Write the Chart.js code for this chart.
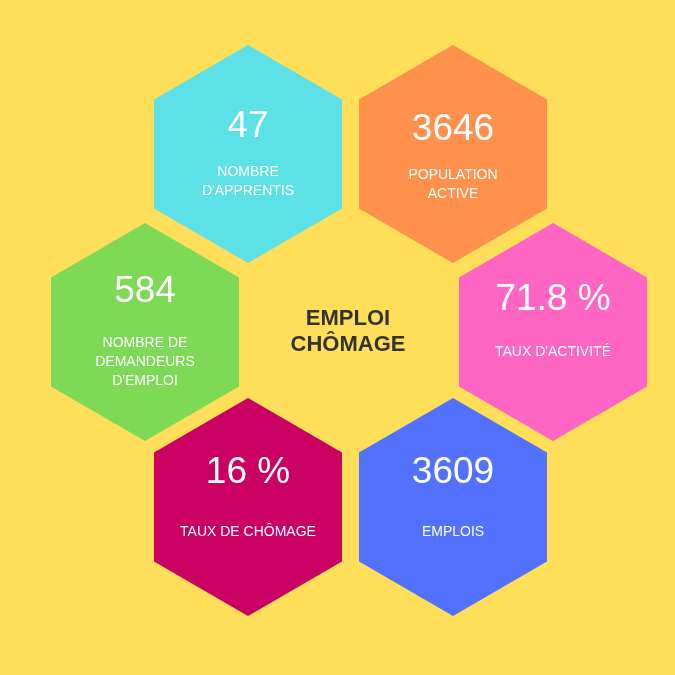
<!DOCTYPE html>
<html>
<head>
<meta charset="utf-8">
<script src="https://cdn.jsdelivr.net/npm/chart.js@4/dist/chart.umd.min.js"></script>
<style>
  html, body { margin: 0; padding: 0; background: #FFDE59; }
  #wrap { width: 675px; height: 675px; }
</style>
</head>
<body>
<div id="wrap"><canvas id="hexChart" width="675" height="675"></canvas></div>
<script>
// values shown in each hexagon
const values = ['47', '3646', '584', '71.8 %', '16 %', '3609'];
const labels = [
  ['NOMBRE', "D'APPRENTIS"],
  ['POPULATION', 'ACTIVE'],
  ['NOMBRE DE', 'DEMANDEURS', "D'EMPLOI"],
  ["TAUX D'ACTIVITÉ"],
  ['TAUX DE CHÔMAGE'],
  ['EMPLOIS']
];
const colors = ['#5CE1E6', '#FF914D', '#7ED957', '#FF66C4', '#CB0063', '#5271FF'];
const title = ['EMPLOI', 'CHÔMAGE'];

// hexagon centres (layout) and text offsets
const centerX = [248, 453, 145, 553, 248, 453];
const centerY = [154, 154, 332, 332, 507, 507];
const numberDy = [-27, -24, -40, -32, -34, -34];
const labelDy = [18, 21, 11, 20, 25, 25];

function hexCanvas(color) {
  const w = 188, h = 218;
  const c = document.createElement('canvas');
  c.width = w; c.height = h;
  const ctx = c.getContext('2d');
  ctx.fillStyle = color;
  ctx.beginPath();
  ctx.moveTo(w / 2, 0);
  ctx.lineTo(w, h / 4);
  ctx.lineTo(w, h * 3 / 4);
  ctx.lineTo(w / 2, h);
  ctx.lineTo(0, h * 3 / 4);
  ctx.lineTo(0, h / 4);
  ctx.closePath();
  ctx.fill();
  return c;
}

const textPlugin = {
  id: 'hexText',
  afterDatasetsDraw(chart) {
    const ctx = chart.ctx;
    const xs = chart.scales.x, ys = chart.scales.y;
    ctx.save();
    ctx.textAlign = 'center';
    ctx.textBaseline = 'middle';
    ctx.fillStyle = '#ffffff';
    values.forEach((v, i) => {
      const px = xs.getPixelForValue(centerX[i]);
      const py = ys.getPixelForValue(centerY[i]);
      ctx.font = '37px "Liberation Sans", Arial, sans-serif';
      ctx.fillText(v, px, py + numberDy[i]);
      ctx.font = '14px "Liberation Sans", Arial, sans-serif';
      labels[i].forEach((l, j) => ctx.fillText(l, px, py + labelDy[i] + j * 19));
    });
    ctx.fillStyle = '#333333';
    ctx.font = 'bold 22px "Liberation Sans", Arial, sans-serif';
    const cx = xs.getPixelForValue(348), cy = ys.getPixelForValue(332);
    ctx.fillText(title[0], cx, cy - 13);
    ctx.fillText(title[1], cx, cy + 13);
    ctx.restore();
  }
};

new Chart(document.getElementById('hexChart'), {
  type: 'scatter',
  data: {
    datasets: [{
      data: centerX.map((x, i) => ({ x: x, y: centerY[i] })),
      pointStyle: colors.map(hexCanvas),
      pointRadius: 94,
      pointHoverRadius: 94,
      clip: false
    }]
  },
  options: {
    responsive: false,
    animation: false,
    devicePixelRatio: 1,
    layout: { padding: 0, autoPadding: false },
    plugins: { legend: { display: false }, tooltip: { enabled: false } },
    scales: {
      x: { display: false, min: 0, max: 675 },
      y: { display: false, min: 0, max: 675, reverse: true }
    }
  },
  plugins: [textPlugin]
});
</script>
</body>
</html>
